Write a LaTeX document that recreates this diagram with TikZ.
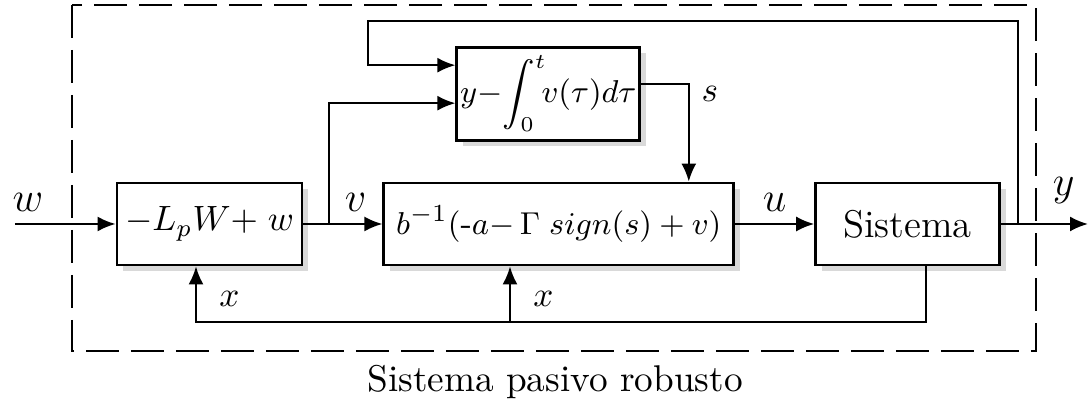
\documentclass[tikz,border=0pt]{standalone}
\usepackage{tikz}
\usetikzlibrary{arrows.meta, positioning, shadows}
\usepackage{amsmath}

\begin{document}
\begin{tikzpicture}[
    blk/.style={draw, line width=0.8pt, fill=white, minimum height=0.82cm, inner sep=1pt, align=center,
        drop shadow={opacity=0.3, shadow xshift=0.6mm, shadow yshift=-0.6mm}},
    sig/.style={draw, line width=0.6pt, -{Latex[length=1.8mm, width=1.5mm]}},
    lbl/.style={font=\large}
]
    \useasboundingbox (0,0) rectangle (10.9,-4.11);

    % blocks
    \node[blk, minimum width=1.85cm] (pre) at (2.095,-2.24) {$-L_pW{+}\;w$};
    \node[blk, minimum width=3.5cm, right=0.79cm of pre] (ctrl)
        {\fontsize{9.4}{12}\selectfont$b^{-1}(\text{-}a{-}\,\Gamma\;sign(s)+v)$};
    \node[blk, minimum width=1.84cm, right=0.79cm of ctrl] (sys) {\fontsize{11}{13}\selectfont Sistema};
    \node[blk, minimum width=1.83cm, minimum height=0.93cm, inner sep=0pt, above=0.4cm of ctrl, xshift=-1.05mm] (surf)
        {\fontsize{8.8}{10}\selectfont$\displaystyle y{-}\!\int_0^t\!\! v(\tau)d\tau$};

    % frame
    \draw[line width=0.55pt, dash pattern=on 3.3mm off 1.2mm] (0.72,-0.05) rectangle (10.36,-3.51);
    \node[font=\fontsize{10.6}{13}\selectfont] (cap) at (5.55,-3.82) {Sistema pasivo robusto};

    % branch points
    \coordinate (win) at (0.15,-2.24);
    \coordinate (yout) at (10.88,-2.24);
    \coordinate (vbr) at (3.29,-2.24);
    \coordinate (ybr) at (10.18,-2.24);
    \coordinate (ytop) at (3.68,-0.21);
    \coordinate (xlow) at (1.96,-3.22);
    \coordinate (xbr) at (5.10,-3.22);

    % signals
    \draw[sig] (win) -- node[lbl, above, pos=0.13] {$w$} (pre);
    \draw[sig] (pre) -- (ctrl);
    \node[lbl, above right=0pt and 1pt of vbr] (vlbl) {$v$};
    \draw[sig] (vbr) |- ([yshift=-0.095cm]surf.west);
    \draw[sig] (ybr) |- (ytop) |- ([yshift=0.285cm]surf.west);
    \draw[sig] ([yshift=0.095cm]surf.east) -| node[right, pos=0.55] {$s$} ([xshift=1.30cm]ctrl.north);
    \draw[sig] (ctrl) -- node[lbl, above] {$u$} (sys);
    \draw[sig] (sys) -- node[lbl, above=2pt, pos=0.72] {$y$} (yout);
    \draw[sig] ([xshift=0.18cm]sys.south) |- (xlow) -- node[right=3pt, pos=0.42] {$x$} (xlow |- pre.south);
    \draw[sig] (xbr) -- node[right=3pt, pos=0.42] {$x$} (xbr |- ctrl.south);

\end{tikzpicture}
\end{document}
